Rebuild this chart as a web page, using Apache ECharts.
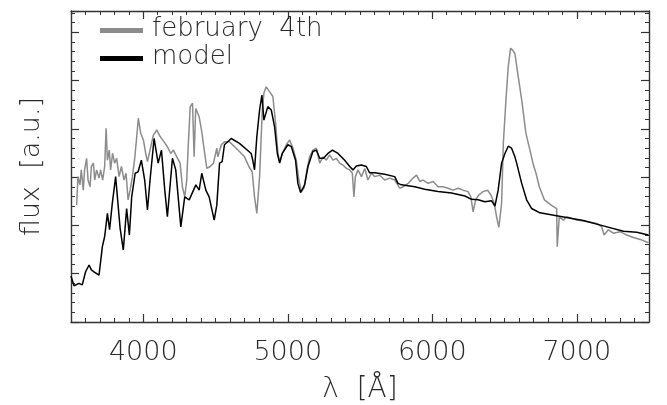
<!DOCTYPE html>
<html>
<head>
<meta charset="utf-8">
<script src="https://cdn.jsdelivr.net/npm/echarts@6/dist/echarts.min.js"></script>
<style>html,body{margin:0;padding:0;background:#fff}#c{width:667px;height:405px}</style>
</head>
<body>
<div id="c"></div>
<script>
// wavelength in Angstrom, flux in arbitrary units
const obsWave = [3539,3548,3562,3571,3585,3594,3608,3618,3632,3641,3655,3664,3677,3694,3705,3719,3733,3743,3752,3765,3774,3788,3802,3816,3833,3849,3867,3881,3895,3909,3925,3941,3955,3966,3982,4001,4017,4029,4047,4070,4093,4117,4144,4167,4190,4209,4232,4255,4271,4287,4301,4311,4325,4341,4352,4363,4387,4405,4422,4440,4463,4486,4509,4516,4540,4562,4597,4632,4666,4701,4731,4754,4770,4786,4805,4824,4835,4851,4874,4897,4916,4932,4944,4962,4990,5013,5036,5059,5077,5094,5112,5133,5151,5174,5198,5221,5244,5267,5290,5313,5336,5359,5382,5406,5429,5447,5458,5468,5486,5510,5533,5555,5579,5602,5637,5671,5706,5740,5775,5798,5833,5867,5891,5914,5937,5971,6006,6040,6075,6110,6144,6179,6214,6248,6267,6283,6300,6322,6352,6383,6406,6429,6445,6461,6480,6492,6510,6526,6542,6556,6572,6595,6619,6648,6676,6700,6718,6741,6776,6823,6861,6865,6879,6907,6930,7000,7069,7138,7173,7189,7219,7253,7300,7346,7392,7439,7496];
const obsFlux = [2.42,3.01,2.84,3.15,2.73,3.15,3.39,2.94,2.80,3.22,3.29,2.94,3.15,2.98,3.15,2.94,3.22,4.01,3.35,3.56,3.15,3.49,3.29,3.39,3.01,3.22,2.94,3.08,2.53,2.73,3.01,3.39,3.84,4.22,3.91,3.77,3.49,3.32,3.56,3.87,3.98,3.84,3.73,3.63,3.49,3.56,3.42,3.29,2.80,2.59,2.94,3.63,4.46,4.53,3.42,4.42,4.25,3.94,3.56,3.18,3.22,3.29,3.60,3.42,3.67,3.73,3.73,3.63,3.53,3.42,3.22,3.11,2.59,2.25,3.01,4.39,4.74,4.87,4.77,4.67,4.11,3.49,3.32,3.49,3.67,3.77,3.60,3.35,2.94,2.70,2.77,3.15,3.42,3.56,3.60,3.29,3.42,3.35,3.46,3.35,3.39,3.29,3.25,3.18,3.15,3.08,2.59,3.01,3.15,3.01,3.18,2.94,3.08,3.01,3.04,2.94,2.98,2.94,2.77,2.80,2.87,2.98,3.04,2.91,2.94,2.87,2.91,2.80,2.80,2.77,2.73,2.77,2.73,2.70,2.59,2.28,2.53,2.63,2.70,2.73,2.63,2.46,2.18,1.96,2.46,3.70,4.60,5.29,5.67,5.63,5.56,5.08,4.60,3.91,3.56,3.25,3.08,2.80,2.53,2.42,2.35,1.56,2.18,2.11,2.18,2.11,2.08,2.04,1.97,1.80,1.91,1.84,1.87,1.80,1.75,1.71,1.64];

const modelWave = [3500,3521,3555,3578,3601,3625,3641,3659,3694,3717,3733,3752,3767,3786,3809,3821,3840,3862,3885,3904,3920,3944,3964,3987,4010,4029,4047,4075,4103,4126,4149,4167,4202,4225,4260,4287,4318,4364,4387,4405,4433,4456,4491,4509,4528,4546,4562,4609,4666,4747,4758,4770,4786,4805,4821,4835,4862,4886,4909,4928,4944,4962,5001,5025,5054,5070,5089,5117,5140,5174,5198,5221,5248,5278,5309,5348,5394,5429,5451,5475,5510,5544,5567,5602,5671,5740,5763,5787,5879,5948,6040,6133,6226,6272,6318,6364,6411,6434,6456,6480,6503,6526,6549,6572,6584,6619,6653,6688,6745,6861,7045,7184,7323,7415,7496];
const modelFlux = [0.95,0.75,0.80,0.77,1.04,1.18,1.08,1.04,0.97,1.56,1.77,2.25,1.91,2.46,3.01,2.59,1.94,1.49,2.35,1.80,2.59,3.08,3.11,3.35,2.94,2.32,2.94,3.80,3.29,3.56,2.73,2.18,3.39,3.15,1.97,2.59,2.53,2.84,2.73,3.08,2.73,2.59,2.11,2.42,3.29,3.32,3.67,3.80,3.70,3.49,3.35,3.15,3.84,4.39,4.70,4.18,4.46,4.39,4.04,3.49,3.29,3.49,3.67,3.63,3.35,2.87,2.68,2.84,3.22,3.53,3.56,3.39,3.39,3.49,3.56,3.49,3.35,3.22,3.15,3.23,3.25,3.22,3.09,3.09,3.06,3.01,2.87,2.84,2.80,2.75,2.70,2.67,2.61,2.54,2.53,2.49,2.51,2.40,2.73,3.29,3.49,3.64,3.60,3.42,3.29,2.87,2.53,2.35,2.26,2.20,2.10,1.99,1.88,1.86,1.80];

const seriesNames = ['february  4th', 'model'];
const xTicks = [4000, 5000, 6000, 7000];

const obsData = obsWave.map((w, i) => [w, obsFlux[i]]);
const modelData = modelWave.map((w, i) => [w, modelFlux[i]]);

const FONT = "'DejaVu Sans', sans-serif";
const lineCol = '#333';
const textCol = '#2a2a2a';
const GRID = { left: 71, right: 18, top: 11, bottom: 83, containLabel: false, outerBoundsMode: 'none' };

// main x axes: short ticks every 500 plus minor ticks every 100
function xAx(pos, labels) {
  return {
    gridIndex: 0, type: 'value', position: pos, min: 3500, max: 7500, interval: 500,
    axisLine: { show: true, onZero: false, lineStyle: { color: lineCol, width: 1.4 } },
    axisTick: { show: true, inside: true, length: 4, lineStyle: { color: lineCol, width: 1 } },
    minorTick: { show: true, splitNumber: 5, length: 4, lineStyle: { color: lineCol, width: 1 } },
    splitLine: { show: false },
    axisLabel: labels ? {
      show: true, customValues: xTicks, margin: 17, fontSize: 27, fontFamily: FONT, fontWeight: 200, color: textCol,
      formatter: v => String(v)
    } : { show: false },
    name: labels ? 'λ  [Å]' : '', nameLocation: 'middle', nameGap: 54,
    nameTextStyle: { fontSize: 28, fontFamily: FONT, fontWeight: 200, color: textCol }
  };
}
// overlay x axes: long ticks at the labelled values
function xMajor(pos) {
  return {
    gridIndex: 1, type: 'value', position: pos, min: 3500, max: 7500, interval: 500,
    axisLine: { show: false, onZero: false },
    axisTick: { show: true, inside: true, length: 8, customValues: xTicks, lineStyle: { color: lineCol, width: 1.2 } },
    splitLine: { show: false }, axisLabel: { show: false }
  };
}
function yAx(pos, name) {
  return {
    gridIndex: 0, type: 'value', position: pos, min: 0, max: 6.44, interval: 1,
    axisLine: { show: true, onZero: false, lineStyle: { color: lineCol, width: 1.4 } },
    axisTick: { show: true, inside: true, length: 8, lineStyle: { color: lineCol, width: 1.2 } },
    minorTick: { show: true, splitNumber: 5, length: 4, lineStyle: { color: lineCol, width: 1 } },
    splitLine: { show: false },
    axisLabel: { show: false },
    name: name || '', nameLocation: 'middle', nameGap: 26, nameRotate: 90,
    nameTextStyle: { fontSize: 27, fontFamily: FONT, fontWeight: 200, color: textCol }
  };
}

const legendIcon = 'path://M0,0 M0,9 L43,9 L43,14 L0,14 Z M0,20 L0.01,20';

const chart = echarts.init(document.getElementById('c'), null, { renderer: 'canvas' });
chart.setOption({
  animation: false,
  backgroundColor: '#fff',
  grid: [Object.assign({}, GRID), Object.assign({}, GRID)],
  legend: {
    orient: 'vertical', left: 100, top: 16, padding: 0, itemGap: 2,
    itemWidth: 43, itemHeight: 20,
    textStyle: { fontSize: 26, fontFamily: FONT, fontWeight: 200, color: textCol, lineHeight: 26, padding: [0, 0, 0, 4] },
    data: [
      { name: seriesNames[0], icon: legendIcon, itemStyle: { color: '#8c8c8c' } },
      { name: seriesNames[1], icon: legendIcon, itemStyle: { color: '#000' } }
    ]
  },
  xAxis: [xAx('bottom', true), xAx('top', false), xMajor('bottom'), xMajor('top')],
  yAxis: [yAx('left', 'flux  [a.u.]'), yAx('right', ''),
          { gridIndex: 1, type: 'value', min: 0, max: 6.44, show: false }],
  series: [
    { name: seriesNames[0], type: 'line', data: obsData, xAxisIndex: 0, yAxisIndex: 0,
      showSymbol: false, symbol: 'none', lineStyle: { color: '#8c8c8c', width: 1.5 }, itemStyle: { color: '#8c8c8c' } },
    { name: seriesNames[1], type: 'line', data: modelData, xAxisIndex: 0, yAxisIndex: 0,
      showSymbol: false, symbol: 'none', lineStyle: { color: '#000', width: 1.5 }, itemStyle: { color: '#000' } }
  ]
});
</script>
</body>
</html>
